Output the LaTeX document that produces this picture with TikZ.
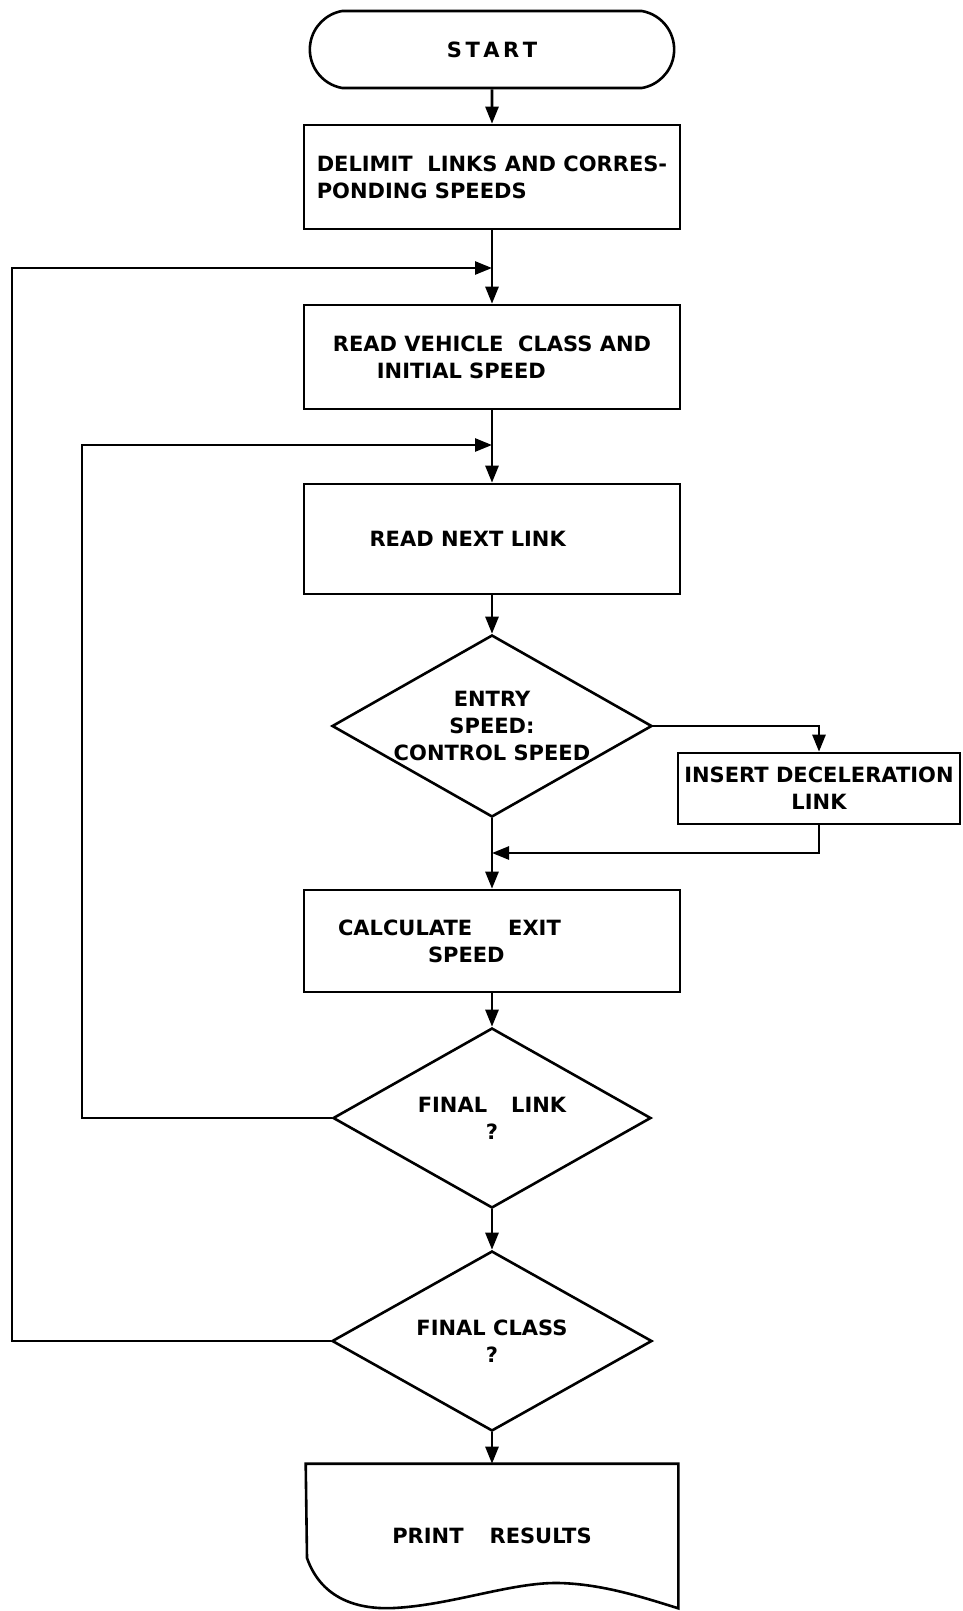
\documentclass[tikz,border=0pt]{standalone}
\usepackage{fontspec}
\setmainfont{DejaVu Sans}
\usetikzlibrary{arrows.meta, positioning, shapes.geometric, shapes.misc}

\begin{document}
\begin{tikzpicture}[x=1pt, y=-1pt, line width=2.6pt,
    lettering/.style={font=\fontsize{21}{27}\selectfont\bfseries},
    terminal/.style={lettering, draw, rounded rectangle, rounded rectangle arc length=160, minimum width=371pt, minimum height=77pt},
    box/.style={lettering, draw, rectangle, align=left, minimum width=376pt, minimum height=104pt},
    decision/.style={lettering, draw, diamond, aspect=1.76, inner sep=0pt, align=center, minimum width=320pt, minimum height=182pt},
    flow/.style={-{Triangle[length=17pt, width=13pt]}}]
    \useasboundingbox (0,0) rectangle (962,1611);

    % Draw the main column
    \node[terminal] (start) at (492,49.5) {S\,T\,A\,R\,T};
    \node[box] (delimit) at (492,177) {DELIMIT\ \ LINKS AND CORRES-\\PONDING SPEEDS};
    \node[box] (vehicle) at (492,357) {READ VEHICLE\ \ CLASS AND\\\hspace*{44pt}INITIAL SPEED};
    \node[box, minimum height=110pt] (nextlink) at (492,539) {\makebox[245pt][l]{READ NEXT LINK}};
    \node[decision] (entry) at (492,726) {ENTRY\\SPEED:\\CONTROL SPEED};
    \node[box, minimum height=102pt] (calc) at (492,941) {\makebox[308pt][l]{CALCULATE\hspace{36pt}EXIT}\\\hspace*{90pt}SPEED};
    \node[decision, minimum width=318pt, minimum height=180pt] (finallink) at (492,1118) {FINAL\hspace{24pt}LINK\\?};
    \node[decision, minimum height=180pt] (finalclass) at (492,1341) {FINAL CLASS\\?};
    \node[lettering, minimum width=370pt, minimum height=142pt] (print) at (492,1536) {PRINT\hspace{26pt}RESULTS};

    % Side box for the deceleration link
    \node[box, align=center, minimum width=282pt, minimum height=71pt] (insert) at (819,788.5) {INSERT DECELERATION\\LINK};

    % Document outline with wavy bottom
    \draw (print.north west) -- (307,1558)
      .. controls (320,1595) and (352,1610) .. (394,1608)
      .. controls (452,1605) and (512,1582) .. (559,1583)
      .. controls (602,1584) and (642,1597) .. (print.south east)
      -- (print.north east) -- cycle;

    % Junction points on the main line
    \coordinate (joina) at (492,268);
    \coordinate (joinb) at (492,445);
    \coordinate (joinc) at (492,853);
    \coordinate (loopa) at (12,268);
    \coordinate (loopb) at (82,445);

    % Straight flow down the column
    \draw[flow] (start) -- (delimit);
    \draw[flow] (delimit) -- (vehicle);
    \draw[flow] (vehicle) -- (nextlink);
    \draw[flow] (nextlink) -- (entry);
    \draw[flow] (entry) -- (calc);
    \draw[flow] (calc) -- (finallink);
    \draw[flow] (finallink) -- (finalclass);
    \draw[flow] (finalclass) -- (print);

    % Branch through the deceleration link
    \draw[flow] (entry.east) -| (insert.north);
    \draw[flow] (insert.south) |- (joinc);

    % Loops back
    \draw[flow] (finallink.west) -| (loopb) -- (joinb);
    \draw[flow] (finalclass.west) -| (loopa) -- (joina);

\end{tikzpicture}
\end{document}
